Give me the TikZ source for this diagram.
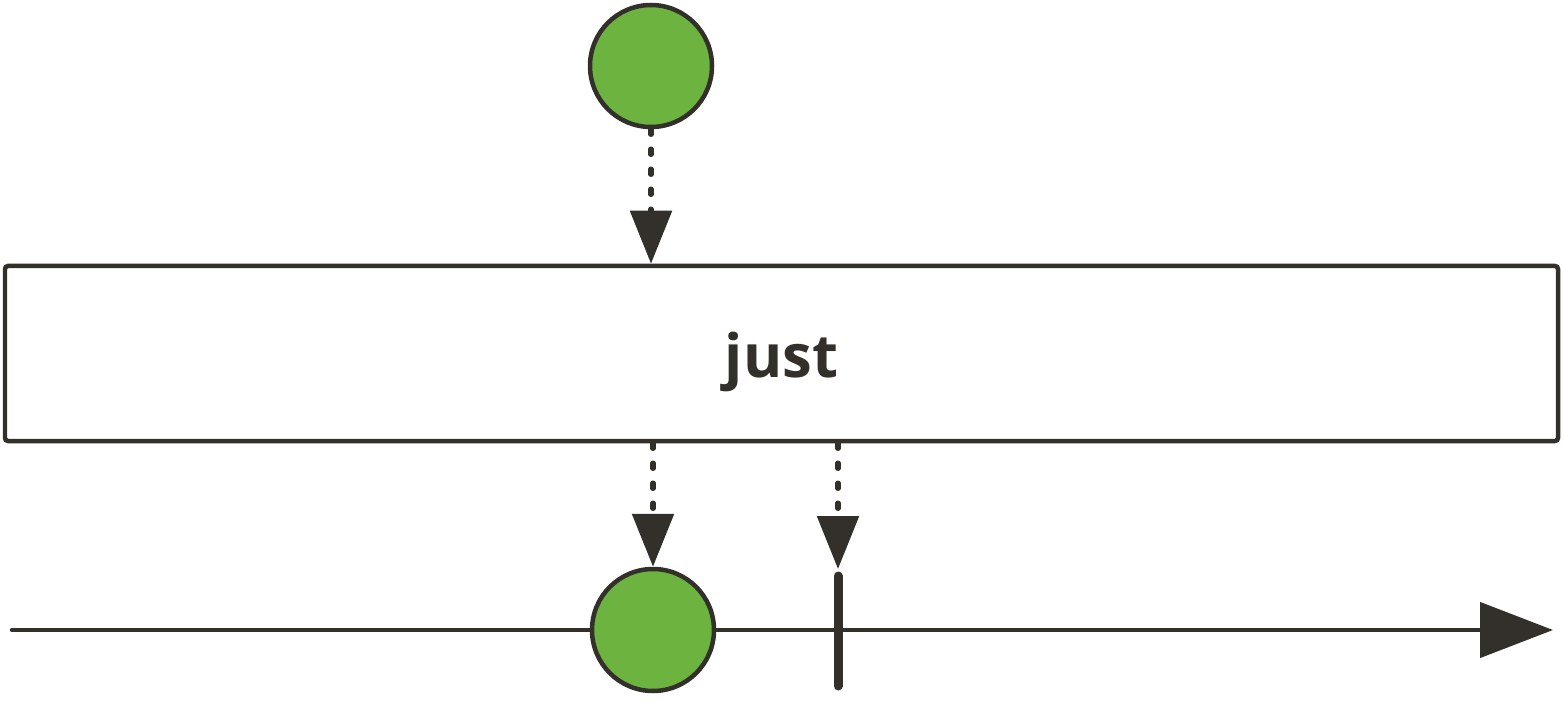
\documentclass[tikz,border=0pt]{standalone}
\usepackage{fontspec}
\setsansfont{Open Sans}
\usepackage{tikz}
\usetikzlibrary{arrows.meta,positioning}
\definecolor{ink}{RGB}{51,48,43}
\definecolor{marble}{RGB}{109,179,63}

\begin{document}
\begin{tikzpicture}[
  item/.style={circle,draw=ink,fill=marble,line width=0.09cm,inner sep=0pt,minimum size=2.44cm},
  flow/.style={ink,line width=0.11cm,line cap=round,dash pattern=on 0.1cm off 0.3cm,
    -{Triangle[length=1.06cm,width=0.82cm]}},
  timeline/.style={ink,line width=0.09cm,line cap=round,-{Triangle[length=1.46cm,width=1.1cm]}}
]
\useasboundingbox (0,0) rectangle (31.28,14.02);
% operator box
\node[draw=ink,line width=0.09cm,rounded corners=0.06cm,minimum width=31.06cm,minimum height=3.5cm,inner sep=0pt]
  (op) at (15.63,6.95) {};
\node[text=ink,font=\sffamily\bfseries\fontsize{34}{40}\selectfont,yshift=-0.16cm] (label) at (op) {just};
% input marble
\node[item] (src) at (13.02,12.70) {};
\draw[flow] (src) -- (src |- op.north);
% output timeline
\coordinate (start) at (0.24,1.42);
\coordinate (end) at (31.06,1.42);
\draw[timeline] (start) -- (end);
\node[item] (res) at (13.06,1.42) {};
\coordinate (done) at (16.76,2.50);
\draw[ink,line width=0.18cm,line cap=round] (done) -- ++(0,-2.2);
% results
\draw[flow] (op.south -| res) -- (res.north);
\draw[flow] (op.south -| done) -- ([yshift=0.14cm]done);
\end{tikzpicture}
\end{document}
